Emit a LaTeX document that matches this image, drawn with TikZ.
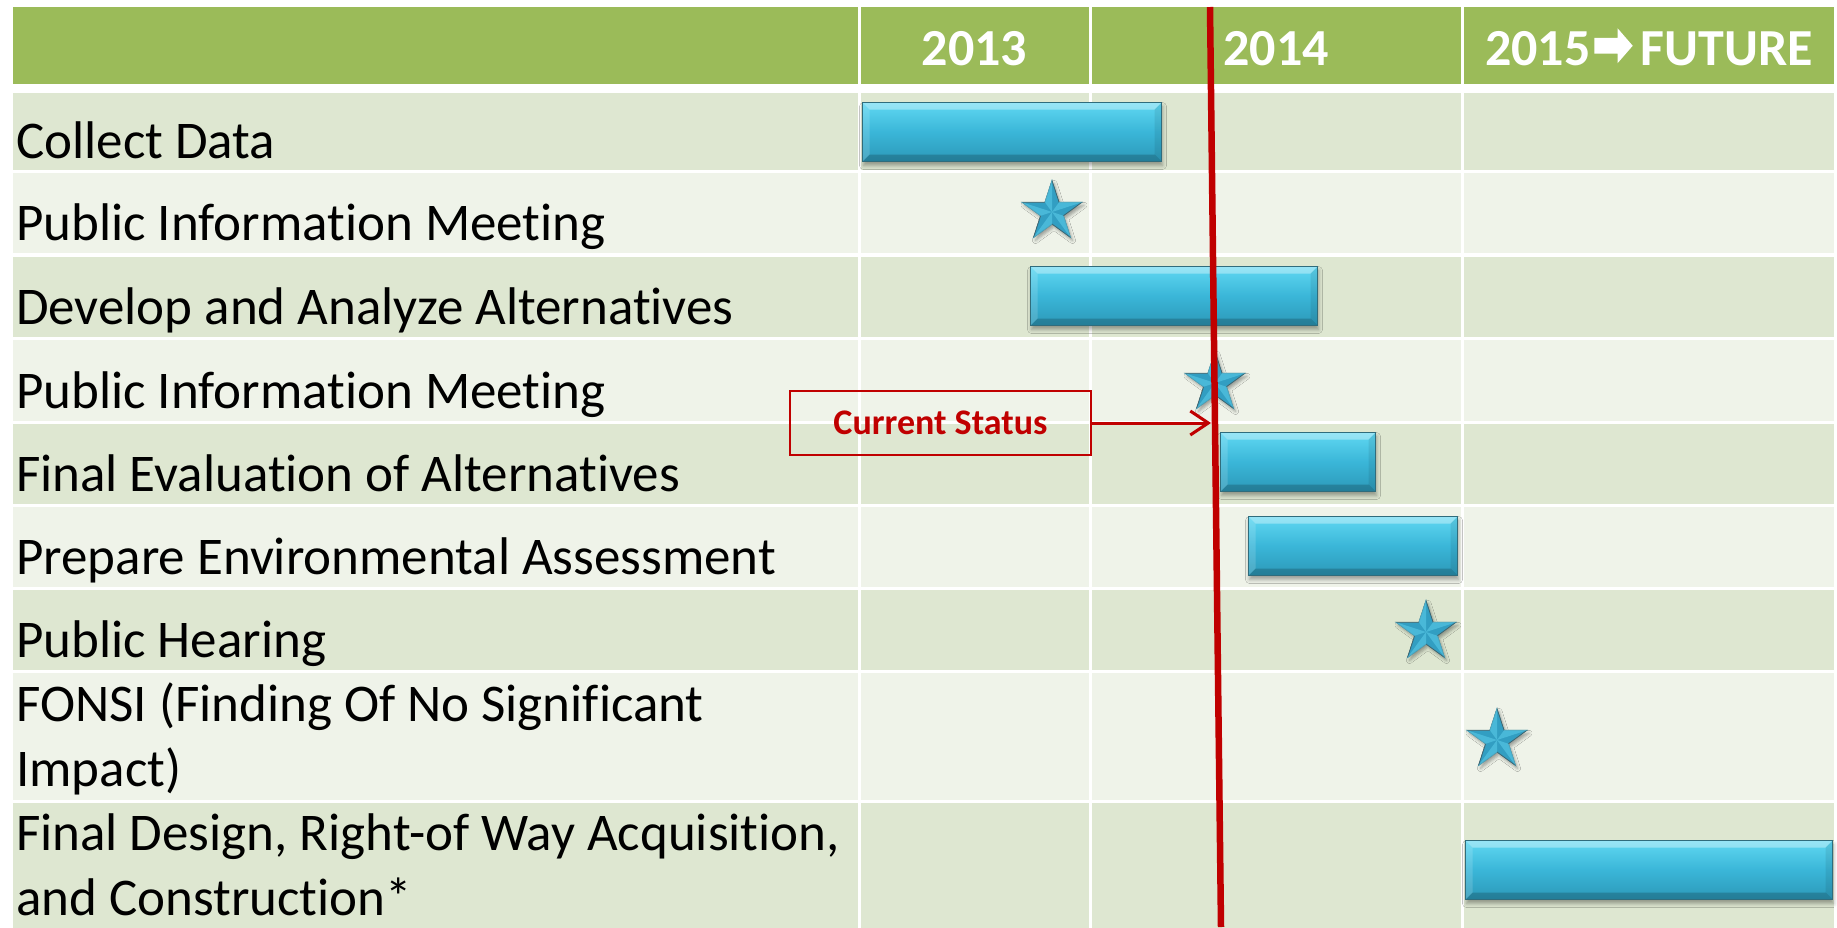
\documentclass[tikz,border=0pt]{standalone}
\usepackage{fontspec}
\usepackage{graphicx}
\setmainfont[Ligatures={NoCommon}]{Carlito}
\newfontfamily\arrowfont[FakeBold=4]{DejaVu Sans}
\usetikzlibrary{shapes.geometric, shadows, shadows.blur, arrows.meta, positioning}
\definecolor{HeaderGreen}{RGB}{155,187,89}
\definecolor{BandDark}{RGB}{222,231,209}
\definecolor{BandLight}{RGB}{239,243,233}
\definecolor{StatusRed}{RGB}{192,0,0}
\definecolor{BarTop}{RGB}{96,216,242}
\definecolor{BarMid}{RGB}{58,182,216}
\definecolor{BarBottom}{RGB}{44,152,184}
\definecolor{BarEdge}{RGB}{48,108,124}
\definecolor{StarBase}{RGB}{50,158,194}
\definecolor{StarLight}{RGB}{84,196,226}
\definecolor{StarEdge}{RGB}{60,100,112}
\newcommand{\rowfont}{\fontsize{53}{65}\selectfont}
\newcommand{\bb}{path picture bounding box}

\begin{document}
\begin{tikzpicture}[x=1pt, y=-1pt, font=\rowfont]
    \tikzset{
        tasklabel/.style={anchor=base west, inner sep=0pt, align=left},
        yearlabel/.style={anchor=base, inner sep=0pt, text=white,
            font=\fontsize{52}{60}\selectfont\bfseries},
        taskbar/.style={rectangle, anchor=north west, inner sep=0pt,
            minimum height=59pt, draw=BarEdge, line width=1pt,
            top color=BarTop, bottom color=BarBottom, middle color=BarMid,
            blur shadow={shadow xshift=1pt, shadow yshift=-4pt,
                shadow blur radius=4pt, shadow opacity=35},
            path picture={
                \fill[white, opacity=.35] (\bb.north west) -- (\bb.north east)
                    -- ([xshift=-7pt, yshift=-7pt]\bb.north east)
                    -- ([xshift=7pt, yshift=-7pt]\bb.north west) -- cycle;
                \fill[black, opacity=.18] (\bb.south west) -- (\bb.south east)
                    -- ([xshift=-7pt, yshift=7pt]\bb.south east)
                    -- ([xshift=7pt, yshift=7pt]\bb.south west) -- cycle;
                \fill[white, opacity=.15] (\bb.north west) -- (\bb.south west)
                    -- ([xshift=7pt, yshift=7pt]\bb.south west)
                    -- ([xshift=7pt, yshift=-7pt]\bb.north west) -- cycle;
                \fill[black, opacity=.08] (\bb.north east) -- (\bb.south east)
                    -- ([xshift=-7pt, yshift=7pt]\bb.south east)
                    -- ([xshift=-7pt, yshift=-7pt]\bb.north east) -- cycle;
            }},
        milestone/.style={star, star points=5, star point ratio=2.618,
            minimum size=63pt, inner sep=0pt, fill=StarBase, draw=StarEdge,
            line width=0.8pt,
            blur shadow={shadow xshift=2pt, shadow yshift=-3pt,
                shadow blur radius=3pt, shadow opacity=35}},
        nowline/.style={StatusRed, line width=6.5pt},
        statusbox/.style={rectangle, draw=StatusRed, line width=2.5pt,
            minimum width=301pt, minimum height=64pt, text=StatusRed,
            font=\fontsize{36}{40}\selectfont\bfseries},
        statusarrow/.style={StatusRed, line width=3pt,
            -{Straight Barb[length=18pt, width=24pt]}}
    }
    \useasboundingbox (0,0) rectangle (1837,927);
    \fill[HeaderGreen] (13,7) rectangle (1834,84);
    \foreach \ytop/\ybot/\col in {93/170/BandDark, 173/253/BandLight,
        257/337/BandDark, 340/421/BandLight, 424/504/BandDark,
        507/587/BandLight, 590/670/BandDark, 673/800/BandLight,
        803/935/BandDark}
        \fill[\col] (13,\ytop) rectangle (1834,\ybot);
    \foreach \xc in {859,1090,1462}
        \draw[white, line width=3pt] (\xc,0) -- (\xc,935);

    \node[yearlabel] (y2013) at (974.5,65) {2013};
    \node[yearlabel] (y2014) at (1276,65) {2014};
    \node[yearlabel] (y2015) at (1649,65)
        {2015\kern2pt\raisebox{2pt}{\resizebox{40pt}{32pt}{\arrowfont ➡}}\kern8pt FUTURE};

    \node[tasklabel] (collect) at (16,158) {Collect Data};
    \node[tasklabel] (meeting1) at (16,240) {Public Information Meeting};
    \node[tasklabel] (develop) at (16,324) {Develop and Analyze Alternatives};
    \node[tasklabel] (meeting2) at (16,408) {Public Information Meeting};
    \node[tasklabel] (evaluate) at (16,491) {Final Evaluation of Alternatives};
    \node[tasklabel] (assess) at (16,574) {Prepare Environmental Assessment};
    \node[tasklabel] (hearing) at (16,657) {Public Hearing};
    \node[tasklabel] (fonsi) at (16,786)
        {FONSI (Finding Of No Significant\\Impact)};
    \node[tasklabel] (design) at (16,915)
        {Final Design, Right-of Way Acquisition,\\and Construction*};

    \node[taskbar, minimum width=299pt] (collectbar) at (862,102) {};
    \node[taskbar, minimum width=287pt] (developbar) at (1030,266) {};
    \node[taskbar, minimum width=155pt] (evaluatebar) at (1220,432) {};
    \node[taskbar, minimum width=209pt] (assessbar) at (1248,516) {};
    \node[taskbar, minimum width=367pt] (designbar) at (1465,840) {};

    \node[milestone] (meeting1star) at (1052,212) {};
    \node[milestone] (meeting2star) at (1215,383) {};
    \node[milestone] (hearingstar) at (1426,632) {};
    \node[milestone] (fonsistar) at (1497,740) {};
    \foreach \s in {meeting1star, meeting2star, hearingstar, fonsistar}
        \foreach \i in {1,...,5}
            \fill[StarLight, opacity=.7] (\s.center) -- (\s.outer point \i)
                -- (\s.inner point \i) -- cycle;

    \coordinate (nowtop) at (1210,7);
    \coordinate (nowbottom) at (1221,927);
    \draw[nowline] (nowtop) -- (nowbottom);

    \node[statusbox] (status) at (940.5,423) {Current Status};
    \coordinate (statuspoint) at (1211,423);
    \draw[statusarrow] (status) -- (statuspoint);
\end{tikzpicture}
\end{document}
